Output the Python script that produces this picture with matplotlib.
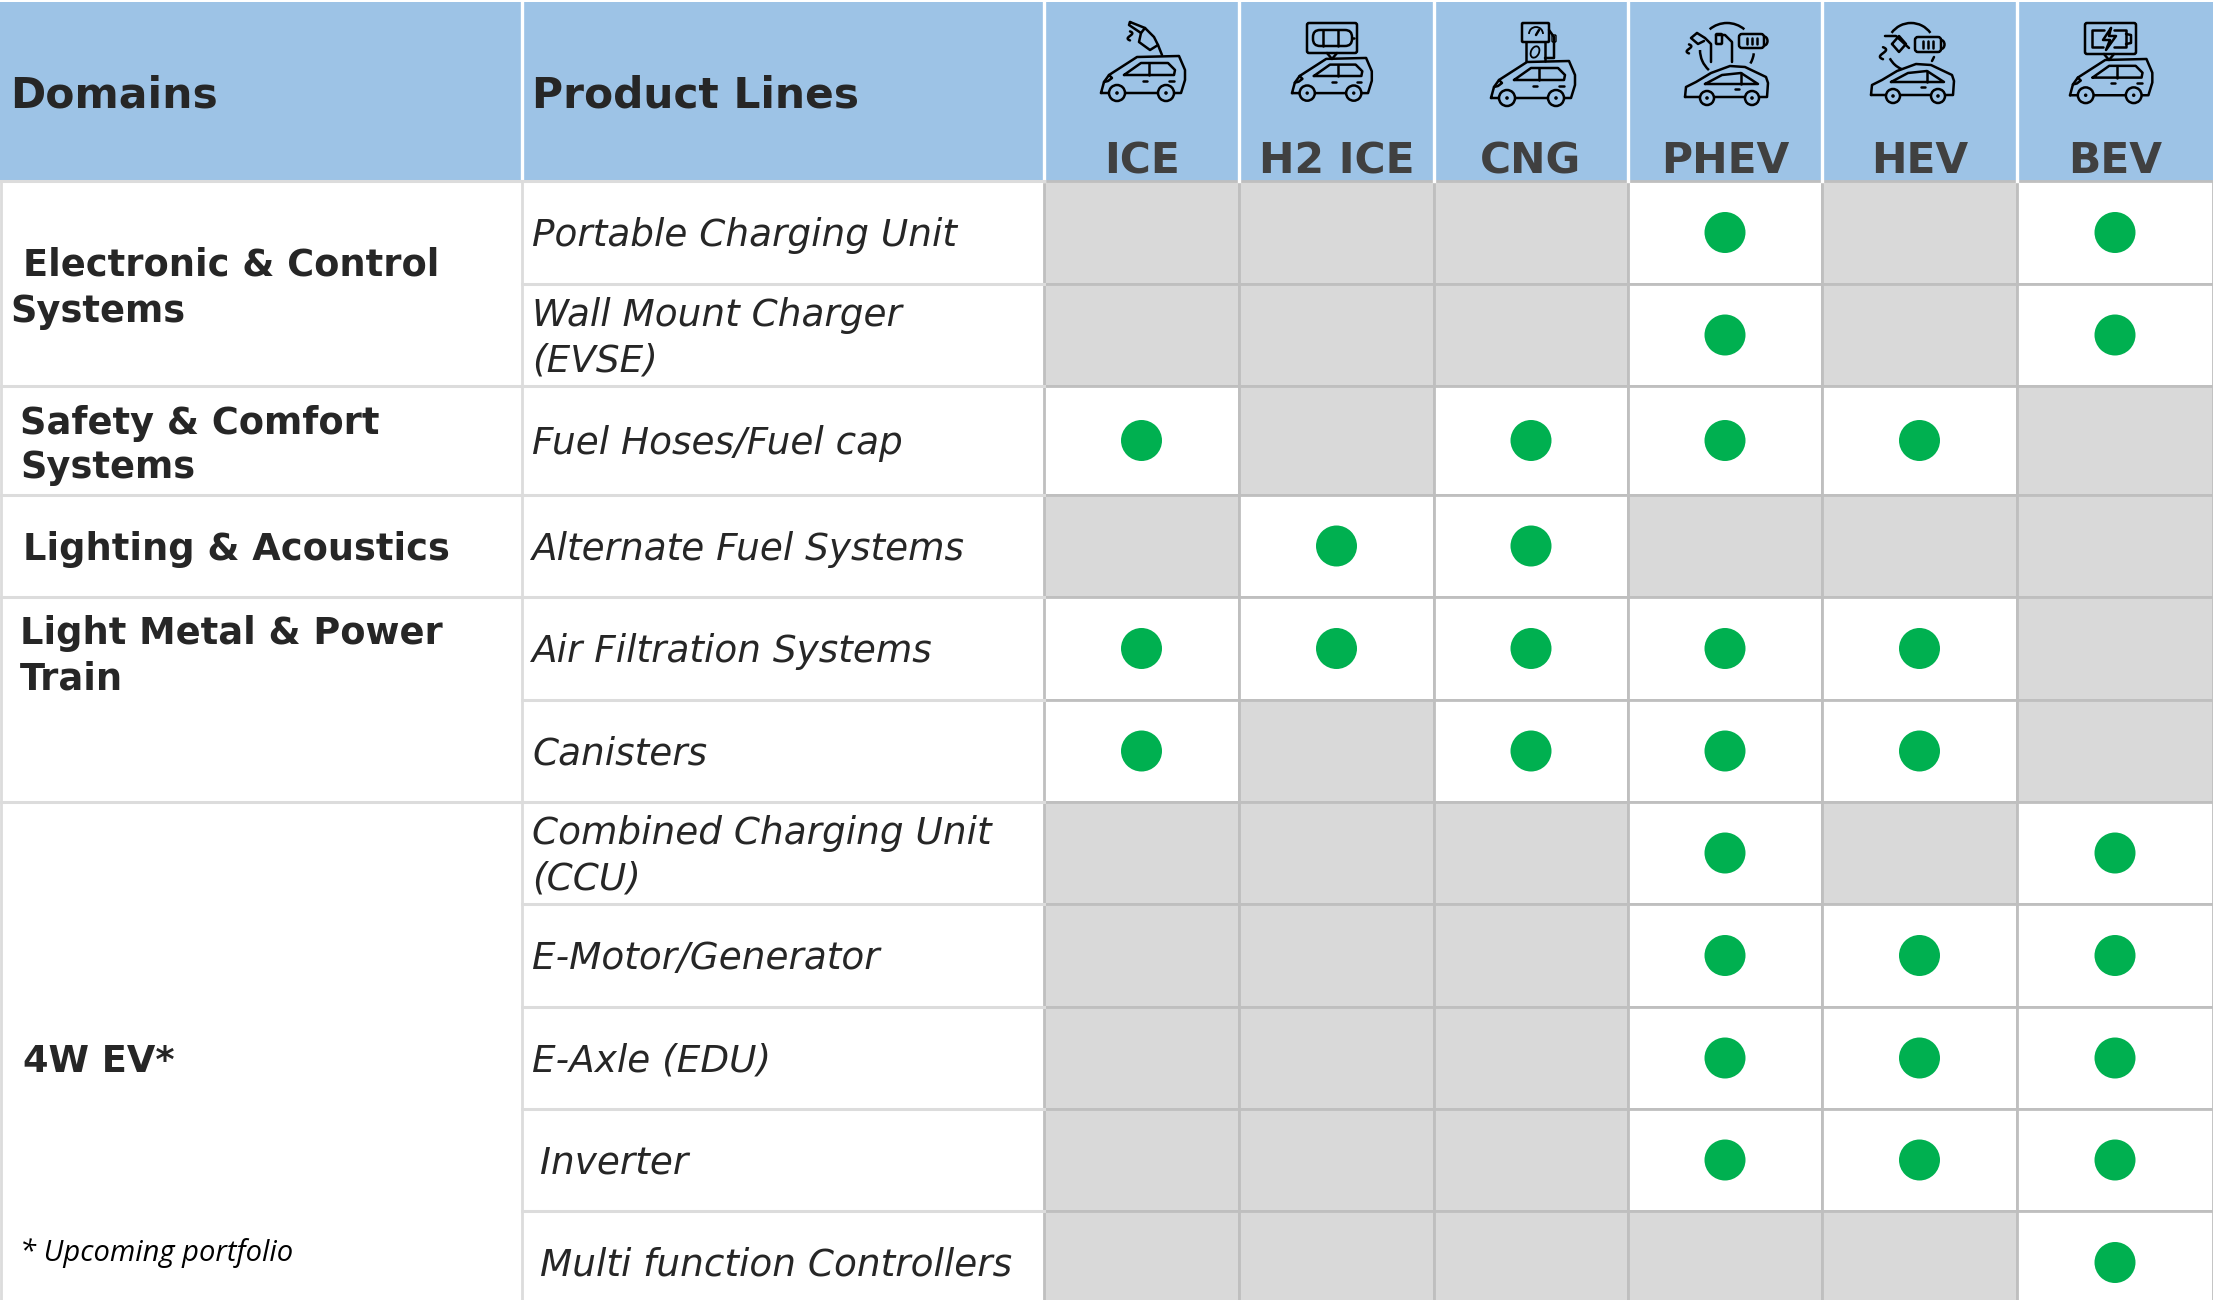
import numpy as np
import matplotlib.pyplot as plt
from matplotlib.patches import Rectangle, Circle, FancyBboxPatch, Arc, Ellipse

# table content
fuel_types = ['ICE', 'H2 ICE', 'CNG', 'PHEV', 'HEV', 'BEV']
product_lines = [['Portable Charging Unit'], ['Wall Mount Charger', '(EVSE)'], ['Fuel Hoses/Fuel cap'],
                 ['Alternate Fuel Systems'], ['Air Filtration Systems'], ['Canisters'],
                 ['Combined Charging Unit', '(CCU)'], ['E-Motor/Generator'], ['E-Axle (EDU)'],
                 ['Inverter'], ['Multi function Controllers']]
domains = [['Electronic & Control', 'Systems'], ['Safety & Comfort', 'Systems'], ['Lighting & Acoustics'],
           ['Light Metal & Power', 'Train'], ['4W EV*']]
available = [[0, 0, 0, 1, 0, 1],
             [0, 0, 0, 1, 0, 1],
             [1, 0, 1, 1, 1, 0],
             [0, 1, 1, 0, 0, 0],
             [1, 1, 1, 1, 1, 0],
             [1, 0, 1, 1, 1, 0],
             [0, 0, 0, 1, 0, 1],
             [0, 0, 0, 1, 1, 1],
             [0, 0, 0, 1, 1, 1],
             [0, 0, 0, 1, 1, 1],
             [0, 0, 0, 0, 0, 1]]

# layout, in pixels of the picture
col_edges = [0, 522, 1044, 1239, 1434, 1628, 1822, 2017, 2213]
row_edges = [181, 284, 386, 495, 597, 700, 802, 904, 1007, 1109, 1211, 1314]
domain_edges = [181, 386, 495, 597, 802, 1314]
domain_x = [[23, 10], [20, 20], [23], [20, 20], [23]]
domain_y = [[265, 311], [423, 467], [550], [634, 679], [1061]]
product_x = [532] * 9 + [540, 540]
line_gap = 45

GREY = '#D9D9D9'
LINE_D = '#BFBFBF'
LINE_L = '#DCDCDC'
HEAD = '#9DC3E6'
GREEN = '#00B050'
DARK = '#262626'
LW_ICON = 1.8

fig = plt.figure(figsize=(22.13, 13), dpi=100)
ax = fig.add_axes([0, 0, 1, 1])
ax.set_xlim(0, 2213)
ax.set_ylim(1300, 0)
ax.axis('off')


def line(xs, ys, **kw):
    kw.setdefault('color', 'black')
    kw.setdefault('lw', LW_ICON)
    ax.plot(xs, ys, solid_capstyle='round', solid_joinstyle='round', zorder=6, **kw)


def poly(pts, x0=0, y0=0, s=1.0, close=False):
    pts = list(pts) + ([pts[0]] if close else [])
    line([x0 + p[0] * s for p in pts], [y0 + p[1] * s for p in pts])


def box(x0, y0, x1, y1, rad=2, lw=LW_ICON):
    ax.add_patch(FancyBboxPatch((x0 + rad, y0 + rad), x1 - x0 - 2 * rad, y1 - y0 - 2 * rad,
                                boxstyle='round,pad=%g,rounding_size=%g' % (rad, rad),
                                fc='none', ec='black', lw=lw, zorder=6))


def arc(x, y, r, t0, t1):
    # y axis points down, so the angles run clockwise on the picture
    ax.add_patch(Arc((x, y), 2 * r, 2 * r, theta1=t0, theta2=t1, ec='black', lw=LW_ICON, zorder=6))


def drop(x, y, r):
    t = np.linspace(0, 2 * np.pi, 40)
    line(x + r * np.sin(t) * np.sin(t / 2), y - r * 1.5 * np.cos(t / 2) + r * 0.3)


def wheels(x0, y0, s, xs, yw, r):
    for xw in xs:
        ax.add_patch(Circle((x0 + xw * s, y0 + yw * s), r * s, fc=HEAD, ec='black', lw=LW_ICON, zorder=7))
        ax.add_patch(Circle((x0 + xw * s, y0 + yw * s), 1.8 * s, fc='black', ec='none', zorder=7))


def van(x0, y0, s=1.0):
    poly([(0, 38), (3, 27), (8, 20), (36, 2), (78, 1), (84, 15), (84, 25), (80, 38), (0, 38)], x0, y0, s)
    poly([(23, 20), (40, 8), (67, 8), (74, 15), (73, 20)], x0, y0, s, close=True)
    poly([(48, 8), (48, 20)], x0, y0, s)
    poly([(42, 26), (46, 26)], x0, y0, s)
    poly([(68, 26), (73, 26)], x0, y0, s)
    poly([(8, 20), (11, 23), (7, 26), (3, 27)], x0, y0, s)
    wheels(x0, y0, s, [16, 65], 38, 8)


def sedan(x0, y0, s=1.0):
    poly([(0, 32), (1, 22), (11, 17), (26, 8), (45, 1), (60, 2), (81, 12), (83, 18), (82, 32), (0, 32)], x0, y0, s)
    poly([(20, 19), (37, 10), (56, 8), (73, 19)], x0, y0, s, close=True)
    poly([(56, 8), (56, 19)], x0, y0, s)
    poly([(50, 24), (54, 24)], x0, y0, s)
    wheels(x0, y0, s, [22, 67], 33, 7)


def battery(x0, y0, x1, y1):
    box(x0, y0, x1, y1, rad=3)
    ym = (y0 + y1) / 2
    ax.add_patch(Arc((x1, ym), 7, 9, theta1=-90, theta2=90, ec='black', lw=LW_ICON, zorder=6))
    for f in (0.3, 0.5, 0.7):
        xb = x0 + (x1 - x0) * f
        poly([(xb, y0 + 4), (xb, y1 - 4)])


def bubble(x0, y0, x1, y1, xt):
    box(x0, y0, x1, y1, rad=2)
    poly([(xt - 5, y1), (xt, y1 + 6), (xt + 5, y1)])


def icon_ice():
    van(1101, 55)
    poly([(1130, 22), (1129, 25), (1141, 33), (1145, 28)], close=True)
    poly([(1145, 28), (1154, 37), (1158, 45), (1150, 50), (1139, 42), (1141, 33)])
    poly([(1158, 45), (1162, 55)])
    drop(1130, 35, 3)


def icon_h2():
    van(1292, 57, 0.95)
    bubble(1307, 23, 1357, 53, 1332)
    box(1313, 30, 1352, 46, rad=7)
    poly([(1323, 30), (1323, 46)])
    poly([(1338, 30), (1338, 46)])
    poly([(1352, 38), (1354, 38)])


def icon_cng():
    van(1491, 60)
    box(1522, 23, 1549, 42, rad=1)
    poly([(1526, 42), (1526, 61)])
    poly([(1545, 42), (1545, 61)])
    ax.add_patch(Arc((1536, 34), 14, 14, theta1=180, theta2=360, ec='black', lw=1.3, zorder=6))
    poly([(1536, 35), (1539, 30)])
    ax.add_patch(Ellipse((1535, 52), 8, 12, angle=25, fc='none', ec='black', lw=1.3, zorder=6))
    poly([(1549, 30), (1554, 37), (1554, 58), (1545, 58)])
    box(1552, 35, 1556, 42, rad=1, lw=1.0)


def icon_phev():
    sedan(1685, 65)
    arc(1727, 50, 27, 230, 310)
    arc(1727, 50, 27, 132, 180)
    arc(1727, 50, 27, 7, 30)
    battery(1739, 34, 1764, 48)
    poly([(1697, 33), (1705, 38), (1711, 44), (1711, 62)])
    poly([(1697, 33), (1691, 38), (1698, 44), (1704, 41)])
    drop(1689, 48, 3)
    poly([(1716, 35), (1725, 35), (1732, 42), (1732, 62)])
    box(1716, 34, 1722, 44, rad=1)


def icon_hev():
    sedan(1871, 63)
    arc(1911, 47, 24, 216, 324)
    arc(1911, 47, 24, 113, 152)
    battery(1915, 37, 1941, 52)
    poly([(1885, 36), (1896, 36), (1909, 48)])
    poly([(1892, 44), (1899, 36), (1906, 44), (1899, 52)], close=True)
    drop(1883, 52, 4)
    poly([(1934, 57), (1932, 61)])


def icon_bev():
    van(2070, 58, 0.98)
    bubble(2085, 23, 2136, 54, 2109)
    poly([(2104, 30), (2092, 30), (2092, 47), (2103, 47)])
    poly([(2114, 30), (2126, 30), (2126, 47), (2114, 47)])
    poly([(2126, 34), (2131, 35), (2131, 43), (2126, 44)])
    poly([(2111, 28), (2103, 40), (2110, 40), (2106, 50), (2116, 36), (2109, 36)], close=True)


# header
ax.add_patch(Rectangle((0, 2), 2213, 179, fc=HEAD, ec='none', zorder=1))
for x in col_edges[1:-1]:
    ax.plot([x, x], [2, 181], color='white', lw=2.4, zorder=2)
ax.text(10, 96, 'Domains', fontsize=30.6, fontweight='bold', color=DARK, va='center', zorder=5)
ax.text(532, 96, 'Product Lines', fontsize=30.5, fontweight='bold', color=DARK, va='center', zorder=5)
for j, name in enumerate(fuel_types):
    xc = (col_edges[j + 2] + col_edges[j + 3]) / 2
    ax.text(xc, 161, name, fontsize=30.5, fontweight='bold', color='#404040', ha='center', va='center', zorder=5)
for draw_icon in (icon_ice, icon_h2, icon_cng, icon_phev, icon_hev, icon_bev):
    draw_icon()

# grey / white cells and dots
for i, row in enumerate(available):
    y0, y1 = row_edges[i], row_edges[i + 1]
    for j, v in enumerate(row):
        x0, x1 = col_edges[j + 2], col_edges[j + 3]
        ax.add_patch(Rectangle((x0, y0), x1 - x0, y1 - y0, fc='white' if v else GREY,
                               ec=LINE_D, lw=2, zorder=1))
        if v:
            ax.add_patch(Ellipse(((x0 + x1) / 2, (y0 + y1) / 2), 41, 41, fc=GREEN, ec='none', zorder=4))

# left columns, borders
for y in row_edges[:-1]:
    ax.plot([522, 1044], [y, y], color=LINE_L, lw=2.2, zorder=2)
for y in domain_edges[:-1]:
    ax.plot([0, 522], [y, y], color=LINE_L, lw=2.2, zorder=2)
for x in (1, 522):
    ax.plot([x, x], [181, 1300], color=LINE_L, lw=2, zorder=2)

# text of the two left columns
for i, lines in enumerate(product_lines):
    yc = (row_edges[i] + row_edges[i + 1]) / 2
    for k, t in enumerate(lines):
        y = yc + (k - (len(lines) - 1) / 2) * line_gap + 3
        ax.text(product_x[i], y, t, fontsize=26.9, fontstyle='italic', color=DARK, va='center', zorder=5)
for lines, xs, ys in zip(domains, domain_x, domain_y):
    for t, x, y in zip(lines, xs, ys):
        ax.text(x, y, t, fontsize=26.5, fontweight='bold', color=DARK, va='center', zorder=5)
ax.text(20, 1253, '* Upcoming portfolio', fontsize=21, fontstyle='italic', family='Open Sans',
        color='black', va='center', zorder=5)

fig.savefig('out.png', dpi=100)
